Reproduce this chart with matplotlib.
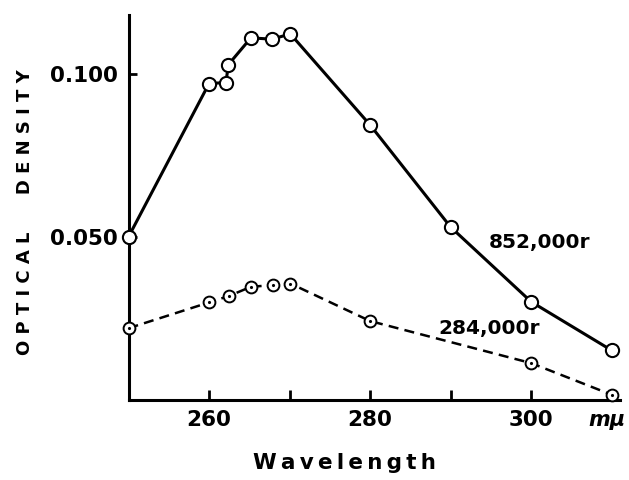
import numpy as np
import matplotlib
matplotlib.use("Agg")
from matplotlib import pyplot as plt

# 852,000r series (solid line, open circles)
wl_hi = [250, 260, 262.1, 262.4, 265.2, 267.8, 270.1, 280, 290, 300, 310]
od_hi = [0.050, 0.097, 0.0973, 0.1028, 0.111, 0.1106, 0.1122, 0.0843, 0.053, 0.0301, 0.0152]

# 284,000r series (dashed line, dotted circles)
wl_lo = [250, 260, 262.5, 265.2, 267.9, 270.1, 280, 300, 310]
od_lo = [0.022, 0.0299, 0.0319, 0.0347, 0.0352, 0.0357, 0.0242, 0.0113, 0.0016]

xticks = [260, 270, 280, 290, 300]
xticklabels = ["260", "", "280", "", "300"]
yticks = [0.050, 0.100]
yticklabels = ["0.050", "0.100"]

fig = plt.figure(figsize=(6.29, 4.80), dpi=100)
ax = fig.add_axes([0.2043, 0.1667, 0.781, 0.802])

ax.plot(wl_hi, od_hi, '-', color='k', linewidth=2.2, zorder=2)
ax.plot(wl_hi, od_hi, 'o', markersize=9.5, markerfacecolor='white',
        markeredgecolor='k', markeredgewidth=1.5, zorder=3, clip_on=False)

ln, = ax.plot(wl_lo, od_lo, '--', color='k', linewidth=1.8, zorder=2)
ln.set_dashes((4, 2.5))
ax.plot(wl_lo, od_lo, 'o', markersize=8.5, markerfacecolor='white',
        markeredgecolor='k', markeredgewidth=1.4, zorder=3, clip_on=False)
ax.plot(wl_lo, od_lo, '.', markersize=2.5, color='k', zorder=4, clip_on=False)

ax.set_xlim(250, 311)
ax.set_ylim(0, 0.118)

for s in ['top', 'right']:
    ax.spines[s].set_visible(False)
for s in ['left', 'bottom']:
    ax.spines[s].set_linewidth(2.2)

ax.set_xticks(xticks)
ax.set_xticklabels(xticklabels, fontsize=15.5, fontweight='bold')
ax.set_yticks(yticks)
ax.set_yticklabels(yticklabels, fontsize=15.5, fontweight='bold')
ax.tick_params(axis='x', direction='in', length=7, width=2, pad=7)
ax.tick_params(axis='y', direction='in', length=6, width=2, pad=8)

ax.text(301.0, 0.0483, "852,000r", fontsize=14.5, fontweight='bold', ha='center', va='center')
ax.text(294.8, 0.0218, "284,000r", fontsize=14.5, fontweight='bold', ha='center', va='center')

fig.text(607 / 629, 1 - 420 / 480, "m\u03bc", fontsize=15, style='italic',
         fontweight='bold', ha='center', va='center')
fig.text(344 / 629, 1 - 463 / 480, "W\u2009a\u2009v\u2009e\u2009l\u2009e\u2009n\u2009g\u2009t\u2009h",
         fontsize=15.5, fontweight='bold', ha='center', va='center')
fig.text(25 / 629, 1 - 212 / 480,
         "O P T I C A L      D E N S I T Y",
         fontsize=13, fontweight='bold', rotation=90, ha='center', va='center')

fig.savefig("out.png", dpi=100)
